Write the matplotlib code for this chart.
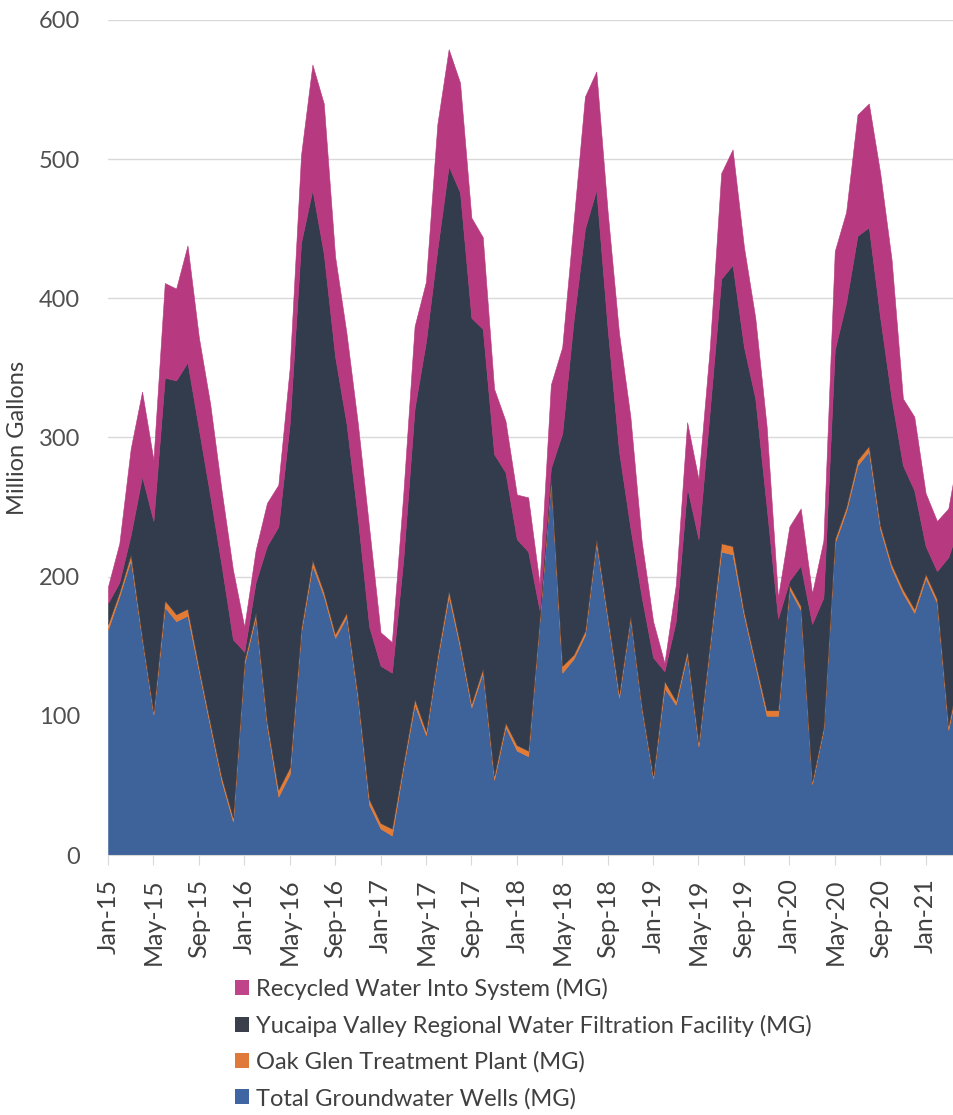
import matplotlib
matplotlib.use("Agg")
import matplotlib.pyplot as plt
from matplotlib.patches import Patch
import numpy as np

# ---- data (million gallons, monthly Jan-15 .. Apr-21) ----
groundwater = [162, 186, 212, 155, 101, 178, 168, 172, 132, 92, 53, 24,
               137, 171, 93, 42, 58, 160, 208, 186, 156, 171, 112, 36,
               19, 14, 63, 108, 86, 140, 186, 149, 106, 131, 54, 92,
               75, 71, 168, 269, 131, 141, 158, 224, 169, 113, 170, 105,
               55, 120, 108, 144, 78, 150, 218, 216, 172, 136, 100, 100,
               191, 176, 51, 90, 224, 247, 280, 290, 234, 206, 188, 174,
               199, 181, 90, 130]
oak_glen = [4, 3, 4, 2, 2, 5, 5, 5, 3, 3, 3, 3,
            3, 3, 3, 5, 5, 3, 4, 3, 3, 3, 3, 4,
            4, 5, 3, 4, 3, 3, 4, 3, 3, 3, 3, 3,
            4, 4, 2, 2, 5, 3, 3, 3, 3, 3, 2, 2,
            2, 5, 3, 3, 3, 3, 6, 6, 3, 3, 4, 4,
            3, 3, 2, 2, 3, 3, 4, 4, 3, 3, 3, 3,
            3, 3, 3, 3]
yucaipa = [15, 7, 14, 115, 137, 160, 168, 177, 171, 163, 152, 128,
           6, 22, 126, 189, 247, 277, 266, 243, 199, 136, 127, 124,
           113, 112, 146, 209, 280, 292, 305, 324, 277, 244, 231, 180,
           148, 143, 6, 7, 167, 240, 289, 251, 206, 174, 63, 78,
           85, 7, 57, 117, 146, 167, 190, 202, 190, 189, 146, 66,
           3, 29, 113, 93, 136, 147, 161, 157, 149, 119, 89, 85,
           20, 20, 121, 105]
recycled = [12, 28, 62, 61, 44, 68, 66, 84, 66, 66, 54, 50,
            18, 23, 31, 30, 40, 63, 90, 108, 72, 65, 68, 71,
            24, 22, 47, 59, 43, 90, 84, 79, 72, 66, 47, 37,
            32, 39, 19, 60, 62, 71, 95, 85, 84, 85, 80, 40,
            26, 6, 26, 47, 43, 45, 76, 83, 72, 58, 58, 15,
            39, 41, 22, 41, 71, 65, 87, 89, 104, 100, 48, 53,
            38, 36, 35, 57]

tick_labels = ["Jan-15", "May-15", "Sep-15", "Jan-16", "May-16", "Sep-16",
               "Jan-17", "May-17", "Sep-17", "Jan-18", "May-18", "Sep-18",
               "Jan-19", "May-19", "Sep-19", "Jan-20", "May-20", "Sep-20",
               "Jan-21"]

series_names = ["Total Groundwater Wells (MG)", "Oak Glen Treatment Plant (MG)",
                "Yucaipa Valley Regional Water Filtration Facility (MG)",
                "Recycled Water Into System (MG)"]
colors = ["#3e629a", "#e37b35", "#333c4c", "#b7397f"]
legend_colors = ["#3f66a3", "#e07a3a", "#3a3f4b", "#c0448a"]

plt.rcParams['font.family'] = ['Lato', 'DejaVu Sans']

fig = plt.figure(figsize=(9.54, 11.15), dpi=100)
ax = fig.add_axes([108 / 954, 1 - 855 / 1115, 1 - 108 / 954, (855 - 20) / 1115])

x = np.arange(len(groundwater))
polys = ax.stackplot(x, groundwater, oak_glen, yucaipa, recycled,
                     colors=colors, linewidth=0.4)
for p, c in zip(polys, colors):
    p.set_edgecolor(c)

ax.set_xlim(0, 74.5)
ax.set_ylim(0, 600)
ax.set_yticks(range(0, 601, 100))
ax.yaxis.grid(True, color="#d9d9d9", linewidth=1)
ax.set_axisbelow(True)
for s in ["top", "right", "left"]:
    ax.spines[s].set_visible(False)
ax.spines["bottom"].set_color("#d9d9d9")
ax.tick_params(axis="y", length=0, labelsize=17, labelcolor="#505050", pad=20)
ax.set_xticks(range(0, 4 * len(tick_labels), 4))
ax.set_xticklabels(tick_labels, rotation=90)
ax.tick_params(axis="x", length=7, color="#d9d9d9", labelsize=18,
               labelcolor="#404040", pad=10)
ax.set_ylabel("Million Gallons", fontsize=17, color="#404040", labelpad=8)

handles = [Patch(facecolor=legend_colors[i], edgecolor="none", label=series_names[i])
           for i in [3, 2, 1, 0]]
fig.legend(handles=handles, loc="upper left", bbox_to_anchor=(235 / 954, 1 - 978 / 1115),
           frameon=False, fontsize=17, handlelength=0.6, handleheight=0.6,
           handletextpad=0.3, labelspacing=0.62, borderpad=0, borderaxespad=0,
           labelcolor="#404040")

fig.savefig("out.png", dpi=100)
